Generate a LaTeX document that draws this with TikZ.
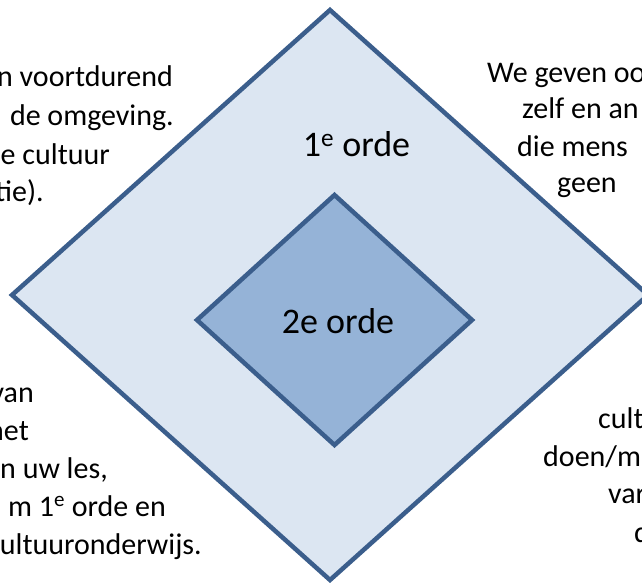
\documentclass[tikz,border=0pt]{standalone}
\usepackage{fontspec}
\setmainfont{Carlito}
\definecolor{edgeblue}{HTML}{3B5E8C}
\definecolor{outerfill}{HTML}{DCE6F2}
\definecolor{innerfill}{HTML}{95B3D7}
\tikzset{
  frame/.style={draw=edgeblue, line width=4.5pt, line join=miter},
  label/.style={inner sep=0pt, anchor=base, font=\fontsize{36}{40}\selectfont},
  sidetext/.style={inner sep=0pt, font=\fontsize{30}{37}\selectfont},
}
\begin{document}
\begin{tikzpicture}[x=1pt, y=-1pt]
  \useasboundingbox (0,0) rectangle (642,583);
  \clip (0,0) rectangle (642,583);

  % outer diamond (1e orde)
  \coordinate (oT) at (330,10);
  \coordinate (oL) at (12,295);
  \coordinate (oB) at (330,580);
  \coordinate (oR) at (648,295);
  \draw[frame, fill=outerfill] (oT) -- (oR) -- (oB) -- (oL) -- cycle;

  % inner diamond (2e orde)
  \coordinate (iT) at (334.5,195);
  \coordinate (iL) at (197,320);
  \coordinate (iB) at (334.5,445);
  \coordinate (iR) at (472,320);
  \draw[frame, fill=innerfill] (iT) -- (iR) -- (iB) -- (iL) -- cycle;

  \node[label] (first) at (356.5,156) {1\textsuperscript{e} orde};
  \node[label] (second) at (338,333) {2e orde};

  % text top left
  \node[sidetext, anchor=base east] (tl1) at (173,87) {n voortdurend};
  \node[sidetext, anchor=base east] (tl2) at (174,125) {de omgeving.};
  \node[sidetext, anchor=base east] (tl3) at (110,164) {e cultuur};
  \node[sidetext, anchor=base east] (tl4) at (44,201) {tie).};

  % text top right
  \node[sidetext, anchor=base west] (tr1) at (487,83) {We geven oo};
  \node[sidetext, anchor=base west] (tr2) at (522,119) {zelf en an};
  \node[sidetext, anchor=base west] (tr3) at (517,156) {die mens};
  \node[sidetext, anchor=base west] (tr4) at (557,192) {geen};

  % text bottom left
  \node[sidetext, anchor=base east] (bl1) at (34,402) {van};
  \node[sidetext, anchor=base east] (bl2) at (29,440) {het};
  \node[sidetext, anchor=base east] (bl3) at (108,478) {n uw les,};
  \node[sidetext, anchor=base east] (bl4) at (166,516) {m 1\textsuperscript{e} orde en};
  \node[sidetext, anchor=base east] (bl5) at (202,554) {ultuuronderwijs.};

  % text bottom right
  \node[sidetext, anchor=base west] (br1) at (598,428) {cult};
  \node[sidetext, anchor=base west] (br2) at (543,466) {doen/m};
  \node[sidetext, anchor=base west] (br3) at (608,503) {var};
  \node[sidetext, anchor=base west] (br4) at (634,542) {d};
\end{tikzpicture}
\end{document}
